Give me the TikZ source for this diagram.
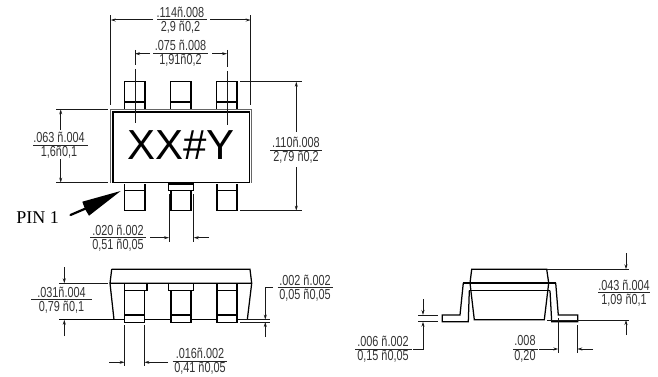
\documentclass[tikz,border=0pt]{standalone}
\usepackage{fontspec}
\usetikzlibrary{arrows.meta}
\setmainfont{Liberation Sans}
\newfontfamily\dimfont[FakeStretch=0.75]{Liberation Sans}
\newfontfamily\pinfont{Liberation Serif}
\newcommand{\dimtext}[5]{%
  \node[dimtxt] (#1a) at (#2,#3-7.5) {#4};
  \node[dimtxt] (#1b) at (#2,#3+7.5) {#5};}
\tikzset{
  part/.style={draw=black,line width=1.25pt,line join=miter},
  dimline/.style={draw=black!90,line width=1pt},
  dimtip/.style={dimline,-{Stealth[length=5pt,width=3pt]}},
  rule/.style={draw=black!85,line width=1pt},
  dimtxt/.style={inner sep=0pt,text=black!80,font=\dimfont\fontsize{14.5}{15}\selectfont},
}
\begin{document}
\begin{tikzpicture}[x=1pt,y=-1pt]
\useasboundingbox (0,0) rectangle (658,377);
% ---- top view: leads
\draw[part] (124.7,109) -- (124.7,81.7) -- (145,81.7) -- (145,109) (124.7,102) -- (145,102);
\draw[part] (170.3,109) -- (170.3,81.7) -- (191,81.7) -- (191,109) (170.3,102) -- (191,102);
\draw[part] (216.8,109) -- (216.8,81.7) -- (237,81.7) -- (237,109) (216.8,102) -- (237,102);
\draw[part] (124.7,184) -- (124.7,210.7) -- (145,210.7) -- (145,184) (124.7,190.7) -- (145,190.7);
\draw[part] (168.7,184) -- (168.7,190.7) -- (193.7,190.7) -- (193.7,184) -- cycle (171,190.7) -- (171,210.7) -- (191,210.7) -- (191,190.7);
\draw[part] (217,184) -- (217,210.7) -- (237,210.7) -- (237,184) (217,190.7) -- (237,190.7);
% ---- top view: body
\draw[draw=black!60,line width=1pt] (110.7,182.7) -- (110.7,109.3) -- (251,109.3) -- (251,182.7);
\draw[draw=black,line width=1.5pt] (113,182.7) -- (113,112) -- (249.5,112) -- (249.5,182.7) -- cycle;
\node[inner sep=0pt,font=\fontsize{42}{42}\selectfont] (mark) at (181,145) {XX\#Y};
% ---- top view: dimensions
\draw[dimline] (110.7,15.5) -- (110.7,105) (250.7,15.5) -- (250.7,105);
\draw[dimtip] (153,20) -- (110.7,20);
\draw[dimtip] (210,20) -- (250.7,20);
\draw[rule] (157,20) -- (207,20);
\dimtext{d1}{180.5}{19.5}{.114ñ.008}{2,9 ñ0,2}
\draw[dimline] (135,50) -- (135,65) (135,69) -- (135,123) (227,50) -- (227,67) (227,71) -- (227,125);
\draw[dimtip] (150,53.7) -- (135,53.7);
\draw[dimtip] (212,53.7) -- (227,53.7);
\draw[rule] (153,53.5) -- (208,53.5);
\dimtext{d2}{180.5}{52.5}{.075 ñ.008}{1,91ñ0,2}
\draw[dimline] (56,109.3) -- (108,109.3) (56,182.7) -- (108,182.7);
\draw[dimtip] (60.7,130) -- (60.7,109.3);
\draw[dimtip] (60.7,159) -- (60.7,182.7);
\draw[rule] (33,145) -- (88,145);
\dimtext{d3}{59}{145}{.063 ñ.004}{1,6ñ0,1}
\draw[dimline] (240,81.7) -- (301.7,81.7) (240,210.7) -- (301.7,210.7);
\draw[dimtip] (296.3,132) -- (296.3,81.7);
\draw[dimtip] (296.3,167) -- (296.3,210.7);
\draw[rule] (270,150) -- (322,150);
\dimtext{d4}{296}{149.5}{.110ñ.008}{2,79 ñ0,2}
\draw[dimline] (169,194) -- (169,241.7) (193.7,194) -- (193.7,241.7);
\draw[dimtip] (150,237.7) -- (169,237.7);
\draw[dimtip] (209,237.7) -- (193.7,237.7);
\draw[rule] (90,237.7) -- (146,237.7);
\dimtext{d5}{118}{237.5}{.020 ñ.002}{0,51 ñ0,05}
% ---- pin 1
\node[inner sep=0pt,anchor=east,font=\pinfont\fontsize{18}{18}\selectfont] (pin) at (59,218) {PIN 1};
\draw[line width=2.2pt,line cap=round] (70.5,215) -- (88,207.5);
\fill (120.7,191) -- (82.3,201.7) -- (85,209) -- (89,215.7) -- cycle;
% ---- side view
\draw[part] (111.7,269.3) -- (250,269.3) -- (251.7,283.3) -- (247.3,319.7) (111.7,269.3) -- (110,283.3) -- (114,319.7) (110,283.3) -- (251.7,283.3);
\draw[draw=black,line width=1.5pt] (59,319.7) -- (124.7,319.7) (144.3,319.7) -- (171,319.7) (191,319.7) -- (217,319.7) (237,319.7) -- (247.3,319.7);
\draw[part] (124.7,283.3) -- (124.7,322.3) -- (144.3,322.3) -- (144.3,290.7) (124.7,290.7) -- (147,290.7) -- (147,283.3) (124.7,315) -- (144.3,315);
\draw[part] (168.7,283.3) -- (168.7,290.7) -- (193.7,290.7) -- (193.7,283.3) (171,290.7) -- (171,322.3) -- (191,322.3) -- (191,290.7) (171,315) -- (191,315);
\draw[part] (217,283.3) -- (217,322.3) -- (237,322.3) -- (237,283.3) (217,290.7) -- (237,290.7) (217,315) -- (237,315);
% ---- side view: dimensions
\draw[dimline] (59.3,283.3) -- (108,283.3);
\draw[dimtip] (64.3,267) -- (64.3,283.3);
\draw[dimtip] (64.3,336) -- (64.3,319.7);
\draw[rule] (31,299) -- (91.7,299);
\dimtext{d6}{61.5}{299.5}{.031ñ.004}{0,79 ñ0,1}
\draw[dimline] (240,319.7) -- (270,319.7) (240,322) -- (270,322);
\draw[dimtip] (273,287.7) -- (265.3,287.7) -- (265.3,319.7);
\draw[dimtip] (265.3,337) -- (265.3,322);
\draw[rule] (277.7,287.7) -- (333,287.7);
\dimtext{d7}{305}{288}{.002 ñ.002}{0,05 ñ0,05}
\draw[dimline] (124.7,325) -- (124.7,366) (144.3,325) -- (144.3,366);
\draw[dimtip] (109,362.3) -- (124.7,362.3);
\draw[dimtip] (168,362.3) -- (144.3,362.3);
\draw[rule] (172.7,361.7) -- (226.7,361.7);
\dimtext{d8}{200}{361}{.016ñ.002}{0,41 ñ0,05}
% ---- end view
\draw[part] (469.3,290.7) -- (550,290.7) (463.3,283) -- (555.7,283);
\draw[part] (474.3,319.7) -- (470,283) -- (471.7,269.3) -- (546.7,269.3) -- (548.7,283) -- (544.3,319.7) -- cycle;
\draw[part] (463.3,283) -- (460,315) -- (442.3,315) -- (442.3,321.7) -- (468.3,321.7) -- (469.3,290.7);
\draw[part] (555.7,283) -- (558.3,315) -- (577.7,315) -- (577.7,321.7) -- (551.7,321.7) -- (550,290.7);
% ---- end view: dimensions
\draw[dimline] (546.7,269.3) -- (629.3,269.3) (547.3,320) -- (629.3,320);
\draw[dimtip] (626,253) -- (626,269.3);
\draw[dimtip] (626,335) -- (626,320);
\draw[rule] (598,292.3) -- (650,292.3);
\dimtext{d9}{624}{292.5}{.043 ñ.004}{1,09 ñ0,1}
\draw[dimline] (418,315) -- (438,315) (418,321.7) -- (438,321.7);
\draw[dimtip] (423,299.3) -- (423,315);
\draw[dimtip] (413,349) -- (423,349) -- (423,321.7);
\draw[rule] (355,349) -- (412,349);
\dimtext{d10}{383}{348.5}{.006 ñ.002}{0,15 ñ0,05}
\draw[dimline] (558.3,318) -- (558.3,353) (577.3,325) -- (577.3,353);
\draw[dimtip] (539,349) -- (558.3,349);
\draw[dimtip] (593,349) -- (577.3,349);
\draw[rule] (513,349) -- (537.7,349);
\dimtext{d11}{525}{348.5}{.008}{0,20}
\end{tikzpicture}
\end{document}
